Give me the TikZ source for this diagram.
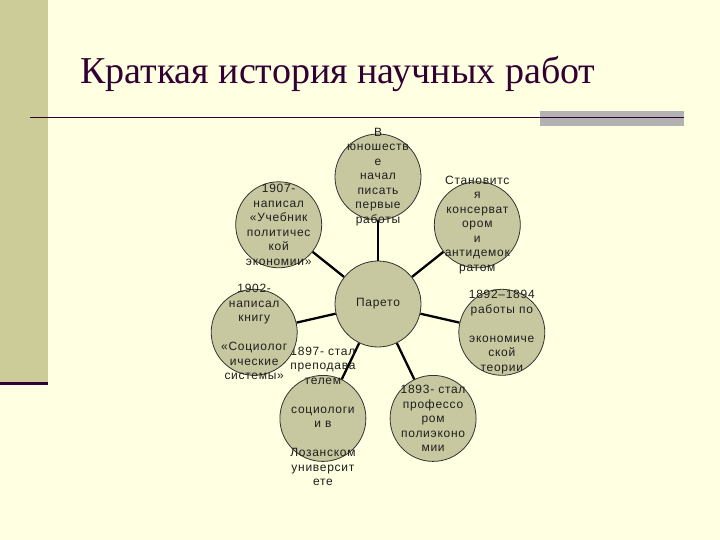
\documentclass[tikz,border=0pt]{standalone}
\usepackage{fontspec}
\setmainfont{Liberation Sans}[LetterSpace=6]
\newfontfamily\titlefont{Liberation Serif}
\definecolor{bgc}{RGB}{255,255,225}
\definecolor{stripc}{RGB}{204,204,153}
\definecolor{darkp}{RGB}{51,0,51}
\definecolor{grayr}{RGB}{178,178,178}
\definecolor{circf}{RGB}{200,200,160}
\definecolor{txtc}{RGB}{30,30,30}
\pgfdeclarelayer{back}
\pgfdeclarelayer{bg}
\pgfsetlayers{back,bg,main}
\tikzset{
  bubble/.style={circle,draw=black!80,line width=0.8pt,fill=circf,minimum size=86pt,inner sep=0pt},
  btext/.style={text=txtc,align=center,font=\fontsize{12}{14.5}\selectfont,inner sep=0pt},
  link/.style={line width=2.3pt,black}
}
\begin{document}
\begin{tikzpicture}[x=1pt,y=-1pt]
\useasboundingbox (0,0) rectangle (720,540);
\begin{pgfonlayer}{back}
\fill[bgc] (0,0) rectangle (720,540);
\fill[stripc] (0,0) rectangle (48,382);
\fill[darkp] (0,382) rectangle (48,385);
\fill[grayr] (540,111) rectangle (684,126);
\draw[darkp,line width=1.8pt] (30,117.5) -- (684,117.5);
\end{pgfonlayer}
\node[anchor=base west,text=darkp,font=\titlefont\fontsize{38}{44}\selectfont,inner sep=0pt] (title) at (80,84) {Краткая история научных работ};

\node[bubble] (c) at (378,304) {};
\node[btext] (ct) at (c.center) {Парето};

\node[bubble] (n1) at (378,177) {};
\node[btext] (t1) at (n1.center) {В\\юношеств\\е\\начал\\писать\\первые\\работы};
\node[bubble] (n2) at (477.3,224.8) {};
\node[btext] (t2) at (n2.center) {Становитс\\я\\консерват\\ором\\и\\антидемок\\ратом};
\node[bubble] (n3) at (501.8,332.3) {};
\node[btext] (t3) at (n3.center) {1892–1894\\работы по\\[14.5pt]экономиче\\ской\\теории};
\node[bubble] (n4) at (433.1,418.4) {};
\node[btext] (t4) at (n4.center) {1893- стал\\профессо\\ром\\полиэконо\\мии};
\node[bubble] (n5) at (322.9,418.4) {};
\node[btext] (t5) at ([yshift=2pt]n5.center) {1897- стал\\преподава\\телем\\[14.5pt]социологи\\и в\\[14.5pt]Лозанском\\университ\\ете};
\node[bubble] (n6) at (254.2,332.3) {};
\node[btext] (t6) at (n6.center) {1902-\\написал\\книгу\\[14.5pt]«Социолог\\ические\\системы»};
\node[bubble] (n7) at (278.7,224.8) {};
\node[btext] (t7) at (n7.center) {1907-\\написал\\«Учебник\\политичес\\кой\\экономии»};

\begin{pgfonlayer}{bg}
\foreach \n in {n1,n2,n3,n4,n5,n6,n7}{
  \draw[link] (c) -- (\n);
}
\end{pgfonlayer}
\end{tikzpicture}
\end{document}
